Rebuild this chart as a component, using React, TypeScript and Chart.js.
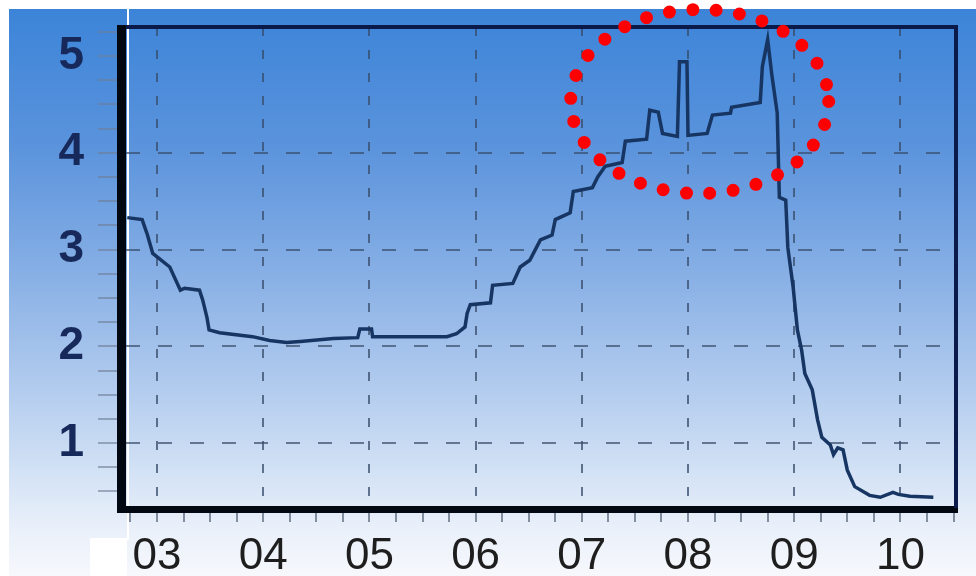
import React, { useEffect, useRef } from "react";
import { Chart, registerables } from "chart.js";

Chart.register(...registerables);

// ---- data (years as decimal, rate in %) ----
const years: number[] = [
  2002.72, 2002.86, 2002.91, 2002.96, 2003.12, 2003.22, 2003.26, 2003.40, 2003.43, 2003.47,
  2003.49, 2003.59, 2003.90, 2004.06, 2004.22, 2004.35, 2004.66, 2004.89, 2004.91, 2005.02,
  2005.03, 2005.73, 2005.82, 2005.90, 2005.92, 2005.95, 2006.14, 2006.16, 2006.35, 2006.42,
  2006.51, 2006.61, 2006.72, 2006.75, 2006.89, 2006.92, 2007.10, 2007.15, 2007.22, 2007.38,
  2007.41, 2007.61, 2007.64, 2007.72, 2007.76, 2007.90, 2007.92, 2007.99, 2008.00, 2008.18,
  2008.23, 2008.40, 2008.41, 2008.68, 2008.70, 2008.75, 2008.79, 2008.84, 2008.86, 2008.92,
  2008.94, 2008.99, 2009.03, 2009.07, 2009.10, 2009.17, 2009.22, 2009.26, 2009.34, 2009.37,
  2009.41, 2009.46, 2009.50, 2009.57, 2009.71, 2009.81, 2009.93, 2009.98, 2010.09, 2010.31,
];
const rates: number[] = [
  3.33, 3.31, 3.15, 2.96, 2.82, 2.58, 2.60, 2.58, 2.48, 2.30,
  2.17, 2.14, 2.10, 2.06, 2.04, 2.05, 2.08, 2.09, 2.18, 2.18,
  2.10, 2.10, 2.13, 2.20, 2.34, 2.43, 2.45, 2.63, 2.65, 2.82,
  2.89, 3.10, 3.15, 3.31, 3.38, 3.60, 3.64, 3.75, 3.86, 3.90,
  4.12, 4.14, 4.44, 4.42, 4.20, 4.17, 4.94, 4.94, 4.18, 4.20,
  4.39, 4.41, 4.47, 4.52, 4.89, 5.17, 4.80, 4.41, 3.54, 3.51,
  3.02, 2.61, 2.17, 1.96, 1.72, 1.55, 1.24, 1.06, 0.98, 0.88,
  0.95, 0.93, 0.72, 0.55, 0.46, 0.44, 0.49, 0.47, 0.45, 0.44,
];
const yearTicks: number[] = [2003, 2004, 2005, 2006, 2007, 2008, 2009, 2010];
const yearLabels: string[] = ["03", "04", "05", "06", "07", "08", "09", "10"];
const valueTicks: number[] = [1, 2, 3, 4, 5];
// highlighted region (centre in data units)
const highlightCenter = { x: 2008.11, y: 4.53 };

const X_MIN = 2002.708;
const X_MAX = 2010.514;
const Y_MIN = 0.35;
const Y_MAX = 5.3;

const bgPlugin = {
  id: "bgPlugin",
  beforeDraw(chart: any) {
    const { ctx, width, height } = chart;
    ctx.save();
    const g = ctx.createLinearGradient(0, 0, 0, height);
    g.addColorStop(0, "#3a83d8");
    g.addColorStop(0.25, "#5a93dc");
    g.addColorStop(0.45, "#82ace4");
    g.addColorStop(0.65, "#adc8ed");
    g.addColorStop(0.82, "#d3e2f5");
    g.addColorStop(0.92, "#eaf0fa");
    g.addColorStop(1, "#f6f8fc");
    ctx.fillStyle = g;
    ctx.fillRect(0, 0, width, height);
    ctx.fillStyle = "#ffffff";
    ctx.fillRect(0, 0, width, 9);
    ctx.fillRect(0, 0, 9, height);
    ctx.fillRect(90, 538, 37, height - 538);
    ctx.fillRect(127, 0, 2, 540);
    ctx.restore();
  },
  afterDatasetsDraw(chart: any) {
    const { ctx, chartArea: a } = chart;
    ctx.save();
    // frame
    ctx.fillStyle = "#020812";
    ctx.fillRect(a.left - 9, a.top - 2, 9, a.bottom - a.top + 8);
    ctx.fillRect(a.left - 9, a.bottom, a.right - a.left + 12, 7);
    ctx.fillStyle = "#0a1a4a";
    ctx.fillRect(a.left, a.top - 2, a.right - a.left + 3, 4);
    ctx.fillRect(a.right - 1, a.top - 2, 4, a.bottom - a.top + 4);
    ctx.restore();
  },
  afterDraw(chart: any) {
    const { ctx, scales } = chart;
    const cx = scales.x.getPixelForValue(highlightCenter.x);
    const cy = scales.y.getPixelForValue(highlightCenter.y);
    ctx.save();
    ctx.strokeStyle = "#ff0000";
    ctx.lineWidth = 13;
    ctx.lineCap = "round";
    ctx.setLineDash([0, 23.5]);
    ctx.beginPath();
    ctx.ellipse(cx, cy, 129, 92, 0, 0, Math.PI * 2);
    ctx.stroke();
    ctx.restore();
  },
};

export default function App() {
  const ref = useRef<HTMLCanvasElement | null>(null);
  useEffect(() => {
    if (!ref.current) return;
    Chart.defaults.font.family = "'Liberation Sans', Arial, sans-serif";
    const points = years.map((x, i) => ({ x, y: rates[i] }));
    const chart = new Chart(ref.current, {
      type: "line",
      data: {
        datasets: [
          {
            data: points,
            borderColor: "#173562",
            borderWidth: 3.5,
            pointRadius: 0,
            tension: 0,
            fill: false,
          },
        ],
      },
      options: {
        responsive: false,
        animation: false,
        layout: { padding: { top: 27, right: 21, left: 0, bottom: 0 } },
        plugins: { legend: { display: false }, tooltip: { enabled: false } },
        scales: {
          x: {
            type: "linear",
            min: X_MIN,
            max: X_MAX,
            afterFit: (s: any) => {
              s.height = 70;
              s.paddingLeft = 0;
              s.paddingRight = 0;
            },
            afterBuildTicks: (s: any) => {
              const t: any[] = [];
              for (let q = 0; q <= 31; q++) t.push({ value: 2002.75 + q * 0.25 });
              s.ticks = t;
            },
            border: { display: false, dash: [9, 14] },
            grid: {
              color: (c: any) =>
                c.tick && yearTicks.includes(Math.round(c.tick.value * 100) / 100)
                  ? "rgba(55,75,105,0.75)"
                  : "rgba(0,0,0,0)",
              lineWidth: 2,
              tickColor: "rgba(95,110,130,0.75)",
              tickWidth: 2,
              tickLength: 16,
              tickBorderDash: [],
            },
            ticks: {
              autoSkip: false,
              maxRotation: 0,
              padding: 8,
              color: "#1e1e1e",
              font: { size: 44 },
              callback: (v: any) => {
                const i = yearTicks.indexOf(Math.round(Number(v) * 100) / 100);
                return i >= 0 ? yearLabels[i] : "";
              },
            },
          },
          y: {
            type: "linear",
            min: Y_MIN,
            max: Y_MAX,
            afterFit: (s: any) => {
              s.width = 126;
              s.paddingTop = 0;
              s.paddingBottom = 0;
            },
            afterBuildTicks: (s: any) => {
              const t: any[] = [];
              for (let q = 0; q <= 19; q++) t.push({ value: 0.5 + q * 0.25 });
              s.ticks = t;
            },
            border: { display: false, dash: [14, 18] },
            grid: {
              color: (c: any) =>
                c.tick && valueTicks.includes(c.tick.value) && c.tick.value !== 5
                  ? "rgba(55,75,105,0.7)"
                  : "rgba(0,0,0,0)",
              lineWidth: 2,
              tickColor: "rgba(110,125,150,0.6)",
              tickWidth: 2,
              tickLength: 28,
              tickBorderDash: [],
            },
            ticks: {
              autoSkip: false,
              padding: 14,
              color: "#17295a",
              font: { size: 46, weight: "bold" },
              callback: (v: any) => (valueTicks.includes(Number(v)) ? String(v) : ""),
            },
          },
        },
      },
      plugins: [bgPlugin],
    });
    return () => chart.destroy();
  }, []);
  return (
    <div style={{ position: "fixed", left: 0, top: 0, width: 976, height: 576 }}>
      <canvas ref={ref} width={976} height={576} style={{ width: 976, height: 576, display: "block" }} />
    </div>
  );
}
